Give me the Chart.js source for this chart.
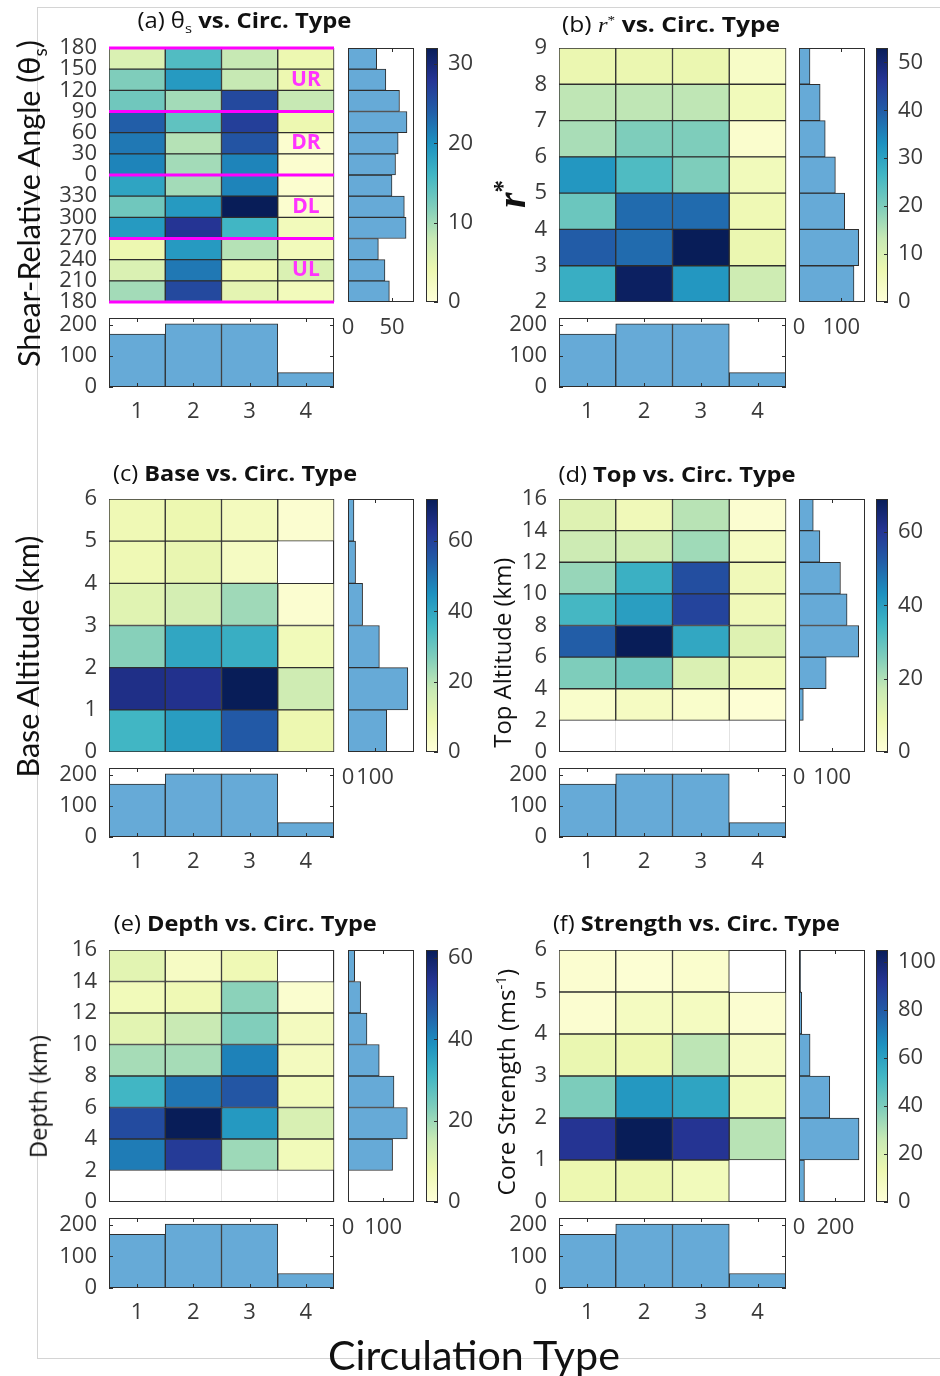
<!DOCTYPE html>
<html><head><meta charset="utf-8">
<script src="https://cdn.jsdelivr.net/npm/chart.js@4.4.1/dist/chart.umd.min.js"></script>
<style>
html,body{margin:0;padding:0;background:#fff}
body{width:940px;height:1376px;position:relative;overflow:hidden;font-family:'Open Sans',sans-serif}
canvas{position:absolute}
.t{position:absolute;white-space:nowrap;color:#111;line-height:1.15;transform-origin:50% 50%}
.t sub,.t sup{font-size:62%;line-height:0}
#frame{position:absolute;left:37px;top:7px;width:1000px;height:1350px;border-left:1px solid #d4d4d4;border-top:1px solid #d4d4d4;border-bottom:1px solid #d4d4d4}
</style></head><body>
<div id="frame"></div>
<script>
// ---------------- DATA ----------------
const circTypes = ['1', '2', '3', '4'];
const circTotals = [170, 203, 203, 46];
const totalLimit = 222;
const totalTicks = [0, 100, 200];

// (a) shear-relative angle, bins bottom -> top, columns = circulation type 1..4
const thetaEdges = [0, 30, 60, 90, 120, 150, 180, 210, 240, 270, 300, 330, 360];
const thetaTickText = ['180', '210', '240', '270', '300', '330', '0', '30', '60', '90', '120', '150', '180'];
const thetaCounts = [
  [10, 26, 5, 3],
  [6, 22, 4, 6],
  [4, 19, 9, 3],
  [19, 28, 16, 3],
  [13, 19, 32, 1],
  [18, 10, 21, 1],
  [21, 10, 21, 1],
  [22, 9, 25, 1],
  [24, 14, 27, 4],
  [13, 10, 26, 8],
  [12, 19, 8, 4],
  [6, 15, 8, 4]
];
const thetaMarginal = [47, 42, 34.5, 66, 64, 50, 54, 57, 67, 58.5, 43, 32.6];
const quadEdges = [0, 90, 180, 270, 360];
const quadNames = ['UL', 'DL', 'DR', 'UR'];

// (b) r*
const rEdges = [2, 3, 4, 5, 6, 7, 8, 9];
const rCounts = [
  [28, 52, 32, 12],
  [40, 38, 53, 7],
  [22, 38, 38, 6],
  [32, 25, 20, 5],
  [16, 20, 20, 2],
  [14, 14, 14, 5],
  [7, 7, 7, 3]
];
const rMarginal = [130, 141, 108, 86, 62, 50, 26];

// (c) base altitude
const baseEdges = [0, 1, 2, 3, 4, 5, 6];
const baseCounts = [
  [36, 42, 55, 9],
  [65, 64, 72, 16],
  [26, 40, 38, 7],
  [12, 15, 23, 2],
  [8, 10, 5, 0],
  [8, 9, 6, 2]
];
const baseMarginal = [143, 221, 116, 54, 28, 22];

// (d) top altitude
const topEdges = [0, 2, 4, 6, 8, 10, 12, 14, 16];
const topCounts = [
  [0, 0, 0, 0],
  [3, 5, 3, 1],
  [26, 28, 13, 7],
  [52, 69, 38, 12],
  [34, 40, 57, 7],
  [23, 36, 55, 7],
  [16, 15, 22, 5],
  [12, 7, 19, 2]
];
const topMarginal = [0, 13, 82, 180, 145, 125, 63, 43];

// (e) depth
const depthEdges = [0, 2, 4, 6, 8, 10, 12, 14, 16];
const depthCounts = [
  [0, 0, 0, 0],
  [42, 53, 20, 6],
  [50, 62, 37, 12],
  [31, 43, 48, 6],
  [19, 19, 41, 5],
  [10, 15, 23, 5],
  [6, 7, 22, 2],
  [10, 4, 7, 0]
];
const depthMarginal = [0, 127, 169, 131, 89, 54, 36, 19];

// (f) core strength
const strengthEdges = [0, 1, 2, 3, 4, 5, 6];
const strengthCounts = [
  [13, 13, 10, 0],
  [92, 105, 92, 29],
  [40, 63, 59, 10],
  [14, 13, 28, 7],
  [3, 8, 8, 3],
  [3, 2, 4, 0]
];
const strengthMarginal = [30, 330, 169, 61, 15, 9];

const colorLimits = [32, 53, 72, 69, 62, 105];
const colorTicks = [[0, 10, 20, 30], [0, 10, 20, 30, 40, 50], [0, 20, 40, 60], [0, 20, 40, 60], [0, 20, 40, 60], [0, 20, 40, 60, 80, 100]];
const marginalLimits = [75, 156, 244, 199, 188, 363];
const marginalTicks = [[0, 50], [0, 100], [0, 100], [0, 100], [0, 100], [0, 200]];

// ---------------- STYLE ----------------
const YLGNBU = [[255,255,217],[237,248,177],[199,233,180],[127,205,187],[65,182,196],[29,145,192],[34,94,168],[37,52,148],[8,29,88]];
function colorOf(t) {
  t = Math.max(0, Math.min(1, t));
  const p = t * (YLGNBU.length - 1);
  const i = Math.min(Math.floor(p), YLGNBU.length - 2);
  const f = p - i, a = YLGNBU[i], b = YLGNBU[i + 1];
  return `rgb(${Math.round(a[0] + (b[0] - a[0]) * f)},${Math.round(a[1] + (b[1] - a[1]) * f)},${Math.round(a[2] + (b[2] - a[2]) * f)})`;
}
const TICK_FONT = { family: "'Open Sans', sans-serif", size: 22 };
const TICK_COLOR = '#3a3a3a';
const EDGE = '#2e2e2e';
const HIST_FILL = 'rgb(102,170,215)';

// ---------------- PLUGINS ----------------
function drawFrame(chart, opts) {
  const a = chart.chartArea, ctx = chart.ctx;
  ctx.save();
  ctx.strokeStyle = (opts && opts.color) || EDGE;
  ctx.lineWidth = 1;
  ctx.strokeRect(Math.round(a.left) + 0.5, Math.round(a.top) + 0.5, Math.round(a.right) - Math.round(a.left) - 1, Math.round(a.bottom) - Math.round(a.top) - 1);
  ctx.restore();
}
const framePlugin = {
  id: 'frame',
  beforeDatasetsDraw(chart, args, opts) { if (opts && opts.when === 'before') drawFrame(chart, opts); },
  afterDatasetsDraw(chart, args, opts) { if (!opts || opts.when !== 'before') drawFrame(chart, opts); }
};
const inTicksPlugin = {
  id: 'inTicks',
  afterDatasetsDraw(chart, args, opts) {
    if (!opts || !opts.axes) return;
    const ctx = chart.ctx, a = chart.chartArea, L = 4;
    ctx.save(); ctx.strokeStyle = EDGE; ctx.lineWidth = 1; ctx.beginPath();
    opts.axes.forEach(ax => {
      const s = chart.scales[ax.id];
      const sides = ax.sides || (s.isHorizontal() ? ['top', 'bottom'] : ['left', 'right']);
      s.ticks.forEach((t, i) => {
        const p = Math.round(s.getPixelForTick(i)) + 0.5;
        sides.forEach(side => {
          if (side === 'top') { ctx.moveTo(p, a.top); ctx.lineTo(p, a.top + L); }
          if (side === 'bottom') { ctx.moveTo(p, a.bottom); ctx.lineTo(p, a.bottom - L); }
          if (side === 'left') { ctx.moveTo(a.left, p); ctx.lineTo(a.left + L, p); }
          if (side === 'right') { ctx.moveTo(a.right, p); ctx.lineTo(a.right - L, p); }
        });
      });
    });
    ctx.stroke(); ctx.restore();
  }
};
const quadPlugin = {
  id: 'quadLabels',
  afterDatasetsDraw(chart, args, opts) {
    if (!opts || !opts.names) return;
    const ctx = chart.ctx, xs = chart.scales.x, ys = chart.scales.y;
    ctx.save();
    ctx.font = "bold 21px 'Open Sans', sans-serif";
    ctx.fillStyle = '#ff33ff';
    ctx.textAlign = 'center'; ctx.textBaseline = 'middle';
    opts.names.forEach((n, i) => {
      ctx.fillText(n, xs.getPixelForValue(opts.col), ys.getPixelForValue((opts.edges[i] + opts.edges[i + 1]) / 2));
    });
    ctx.restore();
  }
};
Chart.register(framePlugin, inTicksPlugin, quadPlugin);
Chart.defaults.animation = false;
Chart.defaults.plugins.legend.display = false;
Chart.defaults.plugins.tooltip.enabled = false;

function makeCanvas(rect, pads) {
  const c = document.createElement('canvas');
  const W = rect.w + pads.l + pads.r, H = rect.h + pads.t + pads.b;
  c.width = W; c.height = H;
  c.style.left = (rect.x - pads.l) + 'px';
  c.style.top = (rect.y - pads.t) + 'px';
  c.style.width = W + 'px'; c.style.height = H + 'px';
  document.body.appendChild(c);
  return c;
}
const baseOpts = { responsive: false, maintainAspectRatio: false, devicePixelRatio: 1, animation: false };

// ---------------- CHART BUILDERS ----------------
function heatmap(rect, edges, counts, cmax, tickText, extra) {
  const pads = { l: 110, r: 6, t: 30, b: 30 };
  const cv = makeCanvas(rect, pads);
  const datasets = counts.map((row, r) => ({
    type: 'bar', order: 2, grouped: false,
    data: row.map(v => v > 0 ? [edges[r], edges[r + 1]] : null),
    backgroundColor: row.map(v => colorOf(v / cmax)),
    borderColor: EDGE, borderWidth: 1, borderSkipped: false,
    barPercentage: 1, categoryPercentage: 1
  }));
  const scales = {
    x: { type: 'category', grid: { display: true, offset: true, color: '#e2e2e2', drawTicks: false }, border: { display: false },
         ticks: { display: false }, afterFit: s => { s.height = 0; } },
    y: { type: 'linear', min: edges[0], max: edges[edges.length - 1],
         grid: { display: false, drawTicks: false }, border: { display: false },
         afterBuildTicks: s => { s.ticks = edges.map(v => ({ value: v })); },
         ticks: { autoSkip: false, font: TICK_FONT, color: TICK_COLOR, padding: 12,
                  callback: v => tickText ? tickText[edges.indexOf(v)] : String(v) },
         afterFit: s => { s.width = pads.l; } }
  };
  const plugins = { frame: { when: 'before' } };
  if (extra) {
    extra.lines.forEach(e => datasets.push({ type: 'line', order: 0, xAxisID: 'xq', clip: false,
      data: [{ x: 0.5, y: e }, { x: 4.5, y: e }], borderColor: '#ff00ff', borderWidth: 3, pointRadius: 0 }));
    scales.xq = { type: 'linear', axis: 'x', offset: false, min: 0.5, max: 4.5, display: false, grid: { offset: false } };
    plugins.quadLabels = { names: extra.names, edges: extra.lines, col: 3 };
  }
  new Chart(cv, { type: 'bar', data: { labels: circTypes, datasets },
    options: Object.assign({}, baseOpts, { layout: { padding: { left: 0, right: pads.r, top: pads.t, bottom: pads.b } }, scales, plugins }) });
}

function sideHist(rect, values, xmax, xticks) {
  const pads = { l: 30, r: 30, t: 18, b: 44 };
  const cv = makeCanvas(rect, pads);
  new Chart(cv, { type: 'bar',
    data: { labels: values.map((_, i) => 'bin' + i),
      datasets: [{ data: values.map(v => v > 0 ? v : null), backgroundColor: HIST_FILL, borderColor: EDGE, borderWidth: 1,
        borderSkipped: false, barPercentage: 1, categoryPercentage: 1 }] },
    options: Object.assign({}, baseOpts, { indexAxis: 'y',
      layout: { padding: { left: pads.l, right: pads.r, top: pads.t, bottom: 0 } },
      scales: {
        y: { type: 'category', reverse: true, display: false },
        x: { type: 'linear', min: 0, max: xmax, grid: { display: false, drawTicks: false }, border: { display: false },
             afterBuildTicks: s => { s.ticks = xticks.map(v => ({ value: v })); },
             ticks: { autoSkip: false, maxRotation: 0, font: TICK_FONT, color: TICK_COLOR, padding: 13 },
             afterFit: s => { s.height = pads.b; } }
      },
      plugins: { frame: {}, inTicks: { axes: [{ id: 'x' }] } } }) });
}

function colorbar(rect, cmax, cticks) {
  const pads = { l: 4, r: 62, t: 28, b: 28 };
  const cv = makeCanvas(rect, pads);
  new Chart(cv, { type: 'bar',
    data: { labels: [''], datasets: [{ data: [[0, cmax]], borderWidth: 0, barPercentage: 1, categoryPercentage: 1,
      backgroundColor: ctx => {
        const ch = ctx.chart, a = ch.chartArea;
        if (!a) return '#ffffff';
        const g = ch.ctx.createLinearGradient(0, a.bottom, 0, a.top);
        YLGNBU.forEach((c, i) => g.addColorStop(i / (YLGNBU.length - 1), `rgb(${c[0]},${c[1]},${c[2]})`));
        return g;
      } }] },
    options: Object.assign({}, baseOpts, {
      layout: { padding: { left: pads.l, right: 0, top: pads.t, bottom: pads.b } },
      scales: {
        x: { display: false },
        y: { position: 'right', min: 0, max: cmax, grid: { display: false, drawTicks: false }, border: { display: false },
             afterBuildTicks: s => { s.ticks = cticks.map(v => ({ value: v })); },
             ticks: { autoSkip: false, font: TICK_FONT, color: TICK_COLOR, padding: 10 },
             afterFit: s => { s.width = pads.r; } }
      },
      plugins: { frame: {}, inTicks: { axes: [{ id: 'y', sides: ['right'] }] } } }) });
}

function totalHist(rect) {
  const pads = { l: 110, r: 6, t: 30, b: 44 };
  const cv = makeCanvas(rect, pads);
  new Chart(cv, { type: 'bar',
    data: { labels: circTypes, datasets: [{ data: circTotals, backgroundColor: HIST_FILL, borderColor: EDGE, borderWidth: 1,
      borderSkipped: false, barPercentage: 1, categoryPercentage: 1 }] },
    options: Object.assign({}, baseOpts, {
      layout: { padding: { left: 0, right: pads.r, top: pads.t, bottom: 0 } },
      scales: {
        x: { type: 'category', grid: { display: false, drawTicks: false }, border: { display: false },
             ticks: { font: TICK_FONT, color: TICK_COLOR, padding: 12 }, afterFit: s => { s.height = pads.b; } },
        y: { type: 'linear', min: 0, max: totalLimit, grid: { display: false, drawTicks: false }, border: { display: false },
             afterBuildTicks: s => { s.ticks = totalTicks.map(v => ({ value: v })); },
             ticks: { autoSkip: false, font: TICK_FONT, color: TICK_COLOR, padding: 12 },
             afterFit: s => { s.width = pads.l; } }
      },
      plugins: { frame: {}, inTicks: { axes: [{ id: 'x' }, { id: 'y' }] } } }) });
}

const COL_A = { heatX: 109, heatW: 225, sideX: 348, sideW: 66, cbX: 426, cbW: 12 };
const COL_B = { heatX: 559, heatW: 227, sideX: 799, sideW: 66, cbX: 876, cbW: 12 };
const ROW_1 = { heatY: 48, heatH: 254, botY: 318, botH: 69 };
const ROW_2 = { heatY: 499, heatH: 253, botY: 768, botH: 69 };
const ROW_3 = { heatY: 950, heatH: 252, botY: 1218, botH: 70 };

function panel(col, row, k, edges, counts, marginal, tickText, extra) {
  totalHist({ x: col.heatX, y: row.botY, w: col.heatW, h: row.botH });
  heatmap({ x: col.heatX, y: row.heatY, w: col.heatW, h: row.heatH }, edges, counts, colorLimits[k], tickText, extra);
  sideHist({ x: col.sideX, y: row.heatY, w: col.sideW, h: row.heatH }, marginal, marginalLimits[k], marginalTicks[k]);
  colorbar({ x: col.cbX, y: row.heatY, w: col.cbW, h: row.heatH }, colorLimits[k], colorTicks[k]);
}

panel(COL_A, ROW_1, 0, thetaEdges, thetaCounts, thetaMarginal, thetaTickText, { lines: quadEdges, names: quadNames });
panel(COL_B, ROW_1, 1, rEdges, rCounts, rMarginal, null, null);
panel(COL_A, ROW_2, 2, baseEdges, baseCounts, baseMarginal, null, null);
panel(COL_B, ROW_2, 3, topEdges, topCounts, topMarginal, null, null);
panel(COL_A, ROW_3, 4, depthEdges, depthCounts, depthMarginal, null, null);
panel(COL_B, ROW_3, 5, strengthEdges, strengthCounts, strengthMarginal, null, null);

// ---------------- TEXT ----------------
function placeText(html, cx, cy, len, size, family, opt) {
  opt = opt || {};
  const d = document.createElement('div');
  d.className = 't';
  d.innerHTML = html;
  d.style.fontFamily = family;
  d.style.fontSize = size + 'px';
  if (opt.weight) d.style.fontWeight = opt.weight;
  if (opt.color) d.style.color = opt.color;
  document.body.appendChild(d);
  let w = d.getBoundingClientRect().width;
  let sx = 1;
  if (opt.stretch) { sx = len / w; }
  else { d.style.fontSize = (size * len / w) + 'px'; }
  w = d.offsetWidth; const h = d.offsetHeight;
  d.style.left = (cx - w / 2) + 'px';
  d.style.top = (cy - h / 2) + 'px';
  let tr = '';
  if (opt.rot) tr += 'rotate(-90deg) ';
  if (sx !== 1) tr += `scaleX(${sx})`;
  d.style.transform = tr;
}
const OS = "'Open Sans', sans-serif";
const CAL = "Lato, 'Open Sans', sans-serif";
const SERIF = "'Liberation Serif', 'DejaVu Serif', serif";
placeText('(a) θ<sub>s</sub> <b>vs. Circ. Type</b>', 244, 20, 214, 21, OS, { stretch: true });
placeText(`(b) <i style="font-family:${SERIF}">r</i><sup style="font-family:${SERIF}">*</sup> <b>vs. Circ. Type</b>`, 671, 24, 218, 21, OS, { stretch: true });
placeText('(c) <b>Base vs. Circ. Type</b>', 235, 473, 244, 21, OS, { stretch: true });
placeText('(d) <b>Top vs. Circ. Type</b>', 677, 474, 237, 21, OS, { stretch: true });
placeText('(e) <b>Depth vs. Circ. Type</b>', 245, 923, 263, 21, OS, { stretch: true });
placeText('(f) <b>Strength vs. Circ. Type</b>', 696, 923, 287, 21, OS, { stretch: true });

placeText('Shear-Relative Angle (θ<sub>s</sub>)', 28, 203, 327, 28, CAL, { rot: true });
placeText('Base Altitude (km)', 28, 656, 242, 28, CAL, { rot: true });
placeText(`<i style="font-family:${SERIF}">r</i><sup style="font-family:${SERIF}">*</sup>`, 512, 194, 28, 28, SERIF, { rot: true, weight: 'bold' });
placeText('Top Altitude (km)', 502, 652, 190, 22, OS, { rot: true });
placeText('Depth (km)', 38, 1096, 123, 22, OS, { rot: true });
placeText('Core Strength (ms<sup>-1</sup>)', 506, 1082, 227, 22, OS, { rot: true });
placeText('Circulation Type', 474, 1354, 292, 36, CAL, {});
</script></body></html>
